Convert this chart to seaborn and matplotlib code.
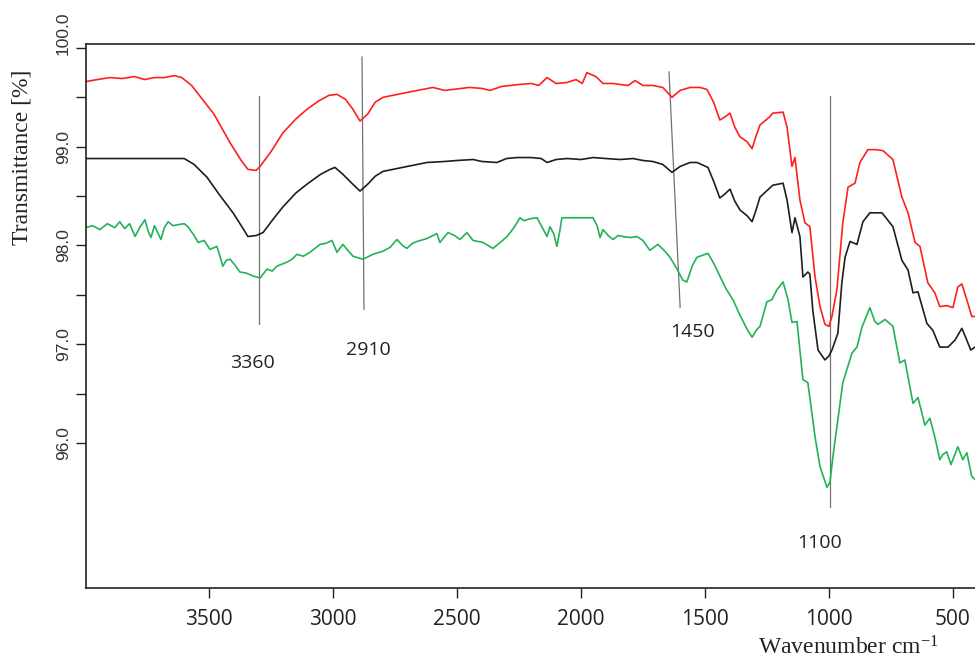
import pandas as pd
import matplotlib.pyplot as plt
import matplotlib.transforms as mtransforms
import seaborn as sns

# FTIR spectra (wavenumber cm-1, transmittance %)
red_wn = [3996, 3950, 3900, 3850, 3800, 3760, 3720, 3680, 3640, 3610, 3570, 3536, 3480, 3415, 3370, 3343,
          3310, 3294, 3250, 3202, 3150, 3109, 3060, 3016, 2984, 2950, 2920, 2891, 2860, 2830, 2798, 2700,
          2597, 2550, 2516, 2450, 2400, 2367, 2320, 2250, 2200, 2170, 2137, 2100, 2056, 2020, 1995, 1976,
          1940, 1911, 1870, 1843, 1810, 1782, 1750, 1710, 1670, 1633, 1600, 1560, 1520, 1492, 1465, 1440,
          1420, 1399, 1380, 1359, 1330, 1310, 1295, 1278, 1240, 1226, 1185, 1169, 1149, 1137, 1117, 1097,
          1077, 1056, 1036, 1016, 1000, 988, 968, 944, 923, 895, 875, 843, 810, 782, 742, 706,
          681, 653, 633, 601, 573, 553, 525, 500, 480, 464, 444, 424, 411]
red_t = [99.66, 99.68, 99.70, 99.69, 99.71, 99.68, 99.70, 99.70, 99.72, 99.70, 99.62, 99.51, 99.33, 99.04, 98.86, 98.77,
         98.76, 98.80, 98.95, 99.14, 99.28, 99.37, 99.46, 99.52, 99.53, 99.48, 99.38, 99.26, 99.33, 99.45, 99.50, 99.55,
         99.60, 99.57, 99.58, 99.60, 99.59, 99.57, 99.61, 99.63, 99.64, 99.62, 99.70, 99.64, 99.65, 99.68, 99.64, 99.75,
         99.71, 99.64, 99.64, 99.63, 99.62, 99.67, 99.62, 99.62, 99.60, 99.50, 99.57, 99.60, 99.60, 99.58, 99.45, 99.27,
         99.30, 99.34, 99.20, 99.10, 99.05, 98.98, 99.10, 99.22, 99.30, 99.34, 99.35, 99.20, 98.80, 98.89, 98.46, 98.23,
         98.19, 97.68, 97.38, 97.20, 97.18, 97.28, 97.55, 98.23, 98.59, 98.63, 98.84, 98.97, 98.97, 98.96, 98.87, 98.49,
         98.33, 98.03, 97.99, 97.62, 97.52, 97.38, 97.39, 97.37, 97.58, 97.61, 97.45, 97.28, 97.28]

black_wn = [3996, 3600, 3560, 3508, 3460, 3403, 3370, 3343, 3310, 3282, 3240, 3202, 3150, 3105, 3050, 3012,
            2992, 2960, 2920, 2891, 2860, 2830, 2798, 2700, 2621, 2550, 2500, 2435, 2400, 2339, 2300, 2258,
            2200, 2160, 2137, 2100, 2056, 2000, 1950, 1900, 1843, 1790, 1750, 1710, 1670, 1633, 1600, 1560,
            1532, 1488, 1465, 1440, 1420, 1399, 1380, 1359, 1330, 1310, 1295, 1278, 1226, 1185, 1169, 1149,
            1137, 1117, 1105, 1085, 1077, 1065, 1044, 1016, 1000, 988, 964, 948, 935, 915, 887, 863,
            835, 786, 742, 706, 681, 661, 641, 605, 581, 553, 520, 492, 464, 444, 428, 411]
black_t = [98.88, 98.88, 98.82, 98.69, 98.52, 98.33, 98.20, 98.09, 98.10, 98.13, 98.27, 98.39, 98.53, 98.62, 98.72, 98.77,
           98.79, 98.72, 98.62, 98.55, 98.62, 98.70, 98.75, 98.80, 98.84, 98.85, 98.86, 98.87, 98.85, 98.84, 98.88, 98.89,
           98.89, 98.88, 98.84, 98.87, 98.88, 98.87, 98.89, 98.88, 98.87, 98.88, 98.86, 98.85, 98.82, 98.74, 98.80, 98.84,
           98.84, 98.79, 98.65, 98.48, 98.52, 98.57, 98.45, 98.36, 98.30, 98.24, 98.35, 98.49, 98.61, 98.63, 98.46, 98.13,
           98.28, 98.09, 97.68, 97.73, 97.71, 97.34, 96.94, 96.84, 96.88, 96.94, 97.11, 97.62, 97.88, 98.04, 98.01, 98.24,
           98.33, 98.33, 98.19, 97.85, 97.75, 97.52, 97.53, 97.21, 97.14, 96.97, 96.97, 97.04, 97.16, 97.04, 96.94, 96.97]

green_wn = [3996, 3970, 3940, 3910, 3880, 3860, 3840, 3820, 3798, 3780, 3758, 3745, 3734, 3720, 3705, 3694,
            3680, 3665, 3645, 3625, 3600, 3585, 3560, 3544, 3520, 3496, 3468, 3444, 3430, 3415, 3395, 3375,
            3350, 3323, 3294, 3266, 3245, 3226, 3186, 3165, 3145, 3120, 3093, 3052, 3030, 3004, 2984, 2960,
            2940, 2919, 2879, 2839, 2800, 2770, 2742, 2720, 2702, 2680, 2661, 2621, 2581, 2569, 2536, 2510,
            2488, 2460, 2435, 2395, 2355, 2330, 2298, 2270, 2246, 2230, 2206, 2177, 2160, 2137, 2125, 2110,
            2097, 2085, 2077, 2040, 2000, 1952, 1935, 1923, 1911, 1890, 1871, 1850, 1831, 1800, 1774, 1750,
            1722, 1690, 1665, 1641, 1610, 1590, 1573, 1550, 1532, 1510, 1488, 1465, 1440, 1415, 1387, 1360,
            1330, 1310, 1290, 1278, 1250, 1230, 1210, 1185, 1165, 1149, 1129, 1105, 1085, 1056, 1036, 1008,
            996, 984, 944, 907, 887, 867, 835, 815, 802, 774, 742, 714, 694, 661, 641, 613,
            593, 573, 553, 541, 525, 508, 480, 460, 444, 424, 411]
green_t = [98.18, 98.20, 98.16, 98.22, 98.18, 98.24, 98.17, 98.22, 98.09, 98.18, 98.26, 98.14, 98.08, 98.20, 98.12, 98.06,
           98.18, 98.24, 98.20, 98.21, 98.22, 98.19, 98.10, 98.03, 98.05, 97.96, 97.99, 97.79, 97.85, 97.86, 97.80, 97.73,
           97.72, 97.69, 97.67, 97.76, 97.74, 97.79, 97.83, 97.86, 97.91, 97.89, 97.93, 98.01, 98.02, 98.05, 97.93, 98.01,
           97.95, 97.89, 97.86, 97.91, 97.94, 97.98, 98.06, 98.00, 97.97, 98.02, 98.04, 98.07, 98.12, 98.03, 98.13, 98.10,
           98.06, 98.13, 98.05, 98.03, 97.97, 98.02, 98.09, 98.18, 98.28, 98.25, 98.27, 98.28, 98.20, 98.09, 98.19, 98.12,
           97.99, 98.15, 98.28, 98.28, 98.28, 98.28, 98.20, 98.08, 98.16, 98.10, 98.06, 98.10, 98.09, 98.08, 98.09, 98.05,
           97.95, 98.01, 97.95, 97.88, 97.75, 97.65, 97.63, 97.80, 97.88, 97.90, 97.92, 97.82, 97.69, 97.56, 97.45, 97.30,
           97.15, 97.07, 97.15, 97.18, 97.43, 97.45, 97.55, 97.63, 97.45, 97.22, 97.23, 96.64, 96.61, 96.06, 95.76, 95.55,
           95.60, 95.86, 96.61, 96.91, 96.97, 97.17, 97.37, 97.23, 97.20, 97.25, 97.18, 96.81, 96.84, 96.40, 96.46, 96.18,
           96.25, 96.06, 95.83, 95.88, 95.91, 95.78, 95.96, 95.83, 95.90, 95.66, 95.63]

x_ticks = [3500, 3000, 2500, 2000, 1500, 1000, 500]
y_ticks = [96, 97, 98, 99, 100]
peak_labels = ['3360', '2910', '1450', '1100']

sns.set_style("ticks")
plt.rcParams['font.family'] = ['Liberation Sans', 'DejaVu Sans']
plt.rcParams['mathtext.default'] = 'regular'

frames = []
for name, wn, t in [('red', red_wn, red_t), ('black', black_wn, black_t), ('green', green_wn, green_t)]:
    frames.append(pd.DataFrame({'wavenumber': wn, 'transmittance': t, 'sample': name}))
df = pd.concat(frames, ignore_index=True)

fig = plt.figure(figsize=(9.75, 6.6), dpi=100)
ax = fig.add_axes([86 / 975, 72 / 660, 889 / 975, 544 / 660])

sns.lineplot(data=df, x='wavenumber', y='transmittance', hue='sample',
             palette={'red': '#ff1f1f', 'black': '#1e1e1e', 'green': '#21b356'},
             sort=False, estimator=None, legend=False, linewidth=1.2, ax=ax)

# peak marker lines and labels
peak_lines = [((3298, 3298), (99.515, 97.20)), ((2883, 2875), (99.91, 97.35)),
              ((1645, 1600), (99.76, 97.37)), ((996, 996), (99.515, 95.35))]
peak_text_pos = [(3323, 96.81), (2859, 96.94), (1552, 97.12), (1036, 94.99)]
for (xs, ys), (tx, ty), lab in zip(peak_lines, peak_text_pos, peak_labels):
    ax.plot(xs, ys, color='#707070', linewidth=0.9, zorder=1)
    ax.text(tx, ty, lab, ha='center', va='center', fontsize=14, family='Open Sans', color='#222222')

ax.set_xlim(3996, 411)
ax.set_ylim(94.53, 100.04)
ax.set_xticks(x_ticks)
ax.set_xticklabels([str(v) for v in x_ticks], fontsize=15, family='Open Sans', color='#222222')
ax.set_yticks(y_ticks)
ax.set_yticklabels([f'{v:.1f}' for v in y_ticks], fontsize=12.5, rotation=90, va='center', color='#333333')
ax.set_yticks([96.5, 97.5, 98.5, 99.5], minor=True)
ax.tick_params(axis='both', which='both', direction='out', length=7, width=1, color='#222222')
ax.tick_params(axis='y', which='major', pad=4)
ax.tick_params(axis='x', which='major', pad=8)
ax.set_xlabel('')
ax.set_ylabel('')

# the top label sits a little above its tick in the reference
top_label = ax.get_yticklabels()[-1]
top_label.set_transform(top_label.get_transform() +
                        mtransforms.ScaledTranslation(0, 0.15, fig.dpi_scale_trans))

ax.spines['right'].set_visible(False)
for s in ['top', 'left', 'bottom']:
    ax.spines[s].set_linewidth(1.2)
    ax.spines[s].set_color('#222222')

fig.text(22 / 975, 1 - 157 / 660, 'Transmittance [%]', rotation=90, ha='center', va='center',
         fontsize=17, family='Liberation Serif', color='#222222')
fig.text(848 / 975, 1 - 648 / 660, 'Wavenumber cm$^{-1}$', ha='center', va='center',
         fontsize=17, family='Liberation Serif', color='#222222')

fig.savefig('out.png', dpi=100)
plt.close()
